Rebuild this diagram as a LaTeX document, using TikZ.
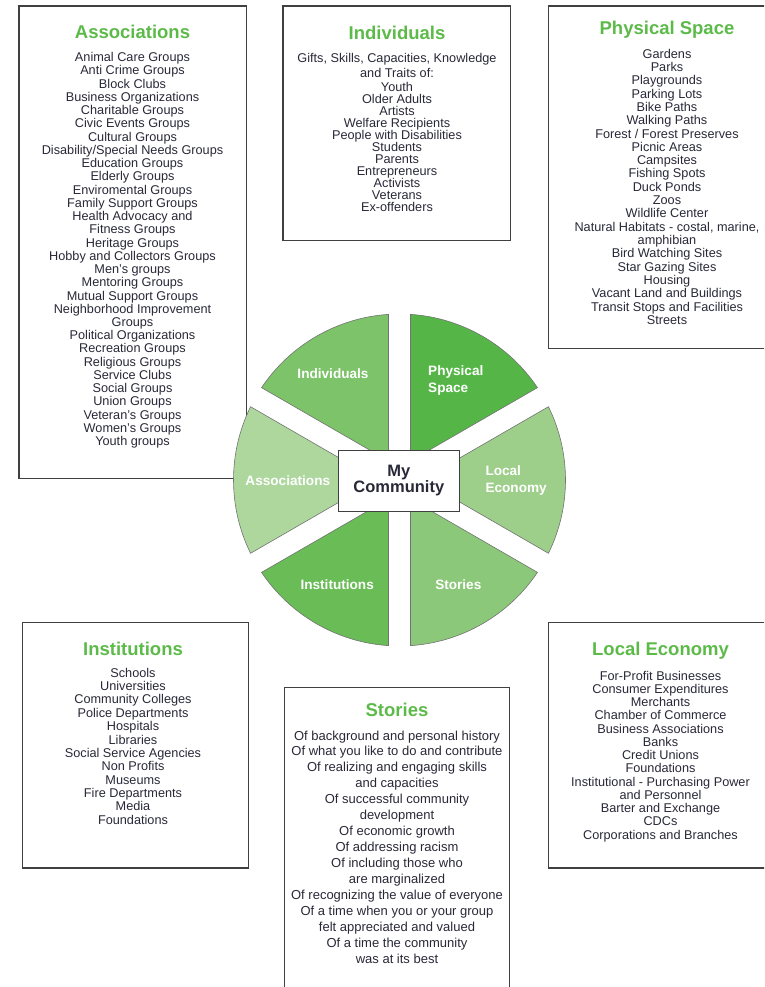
\documentclass[tikz,border=0pt]{standalone}
\usepackage{fontspec}
\setmainfont{Liberation Sans}
\usetikzlibrary{positioning}

\definecolor{titlegreen}{RGB}{92,186,72}
\definecolor{inktext}{RGB}{40,40,56}
\definecolor{boxline}{RGB}{64,64,64}
\definecolor{secind}{RGB}{125,195,106}
\definecolor{secphys}{RGB}{85,182,71}
\definecolor{sececon}{RGB}{158,207,138}
\definecolor{secstor}{RGB}{140,200,121}
\definecolor{secinst}{RGB}{105,188,86}
\definecolor{secassoc}{RGB}{174,215,158}

\tikzset{
  listbox/.style={draw=boxline, line width=1.2pt},
  boxtitle/.style={anchor=base, inner sep=0pt, text=titlegreen,
    font=\bfseries\fontsize{18.5}{20}\selectfont},
  item/.style={anchor=base, inner sep=0pt, text=inktext,
    font=\fontsize{12.7}{13}\selectfont},
  storyitem/.style={item, font=\fontsize{13}{14}\selectfont},
  sector/.style={draw=black!55, line width=0.6pt},
  seclabel/.style={inner sep=0pt, text=white,
    font=\bfseries\fontsize{13.6}{16.5}\selectfont},
  hub/.style={draw=boxline, line width=1pt, fill=white, inner sep=0pt,
    minimum width=121pt, minimum height=61.7pt, align=center, text=inktext,
    font=\bfseries\fontsize{16.5}{16}\selectfont}
}

\begin{document}
\begin{tikzpicture}[x=1pt,y=-1pt]
\useasboundingbox (0,0) rectangle (764,987);
\clip (0,0) rectangle (764,987);

% the six boxes
\draw[listbox] (19,6) rectangle (246.5,478.5);
\draw[listbox] (283,6) rectangle (510.7,240.3);
\draw[listbox] (548.7,6) rectangle (790,348.3);
\draw[listbox] (22.7,622.7) rectangle (248.7,868);
\draw[listbox] (284.7,687.7) rectangle (509.5,1000);
\draw[listbox] (548.7,622.7) rectangle (775,868);

% Associations
\node[boxtitle] (assoctitle) at (132.5,38.3) {Associations};
\foreach \txt [count=\i from 0] in {Animal Care Groups, Anti Crime Groups,
  Block Clubs, Business Organizations, Charitable Groups, Civic Events Groups,
  Cultural Groups, Disability/Special Needs Groups, Education Groups,
  Elderly Groups, Enviromental Groups, Family Support Groups,
  Health Advocacy and, Fitness Groups, Heritage Groups,
  Hobby and Collectors Groups, Men’s groups, Mentoring Groups,
  Mutual Support Groups, Neighborhood Improvement, Groups,
  Political Organizations, Recreation Groups, Religious Groups,
  Service Clubs, Social Groups, Union Groups, Veteran’s Groups,
  Women’s Groups, Youth groups}
  \node[item] (assoc\i) at (132.5,{61.7+13.24*\i}) {\txt};

% Individuals
\node[boxtitle] (indtitle) at (397,39.3) {Individuals};
\node[item] (indhead1) at (397,62.5) {Gifts, Skills, Capacities, Knowledge};
\node[item] (indhead2) at (397,77.5) {and Traits of:};
\foreach \txt [count=\i from 0] in {Youth, Older Adults, Artists,
  Welfare Recipients, People with Disabilities, Students, Parents,
  Entrepreneurs, Activists, Veterans, Ex-offenders}
  \node[item] (ind\i) at (397,{91.5+12*\i}) {\txt};

% Physical Space
\node[boxtitle] (phystitle) at (667,34.3) {Physical Space};
\foreach \txt [count=\i from 0] in {Gardens, Parks, Playgrounds,
  Parking Lots, Bike Paths, Walking Paths, Forest / Forest Preserves,
  Picnic Areas, Campsites, Fishing Spots, Duck Ponds, Zoos,
  Wildlife Center, {Natural Habitats - costal, marine,}, amphibian,
  Bird Watching Sites, Star Gazing Sites, Housing,
  Vacant Land and Buildings, Transit Stops and Facilities, Streets}
  \node[item] (phys\i) at (667,{58.3+13.3*\i}) {\txt};

% Institutions
\node[boxtitle] (insttitle) at (133,655.5) {Institutions};
\foreach \txt [count=\i from 0] in {Schools, Universities,
  Community Colleges, Police Departments, Hospitals, Libraries,
  Social Service Agencies, Non Profits, Museums, Fire Departments,
  Media, Foundations}
  \node[item] (inst\i) at (133,{677.3+13.34*\i}) {\txt};

% Stories
\node[boxtitle] (stortitle) at (397,716.7) {Stories};
\foreach \txt [count=\i from 0] in {Of background and personal history,
  Of what you like to do and contribute, Of realizing and engaging skills,
  and capacities, Of successful community, development,
  Of economic growth, Of addressing racism, Of including those who,
  are marginalized, Of recognizing the value of everyone,
  Of a time when you or your group, felt appreciated and valued,
  Of a time the community, was at its best}
  \node[storyitem] (stor\i) at (397,{740+15.95*\i}) {\txt};

% Local Economy
\node[boxtitle] (econtitle) at (660.5,655) {Local Economy};
\foreach \txt [count=\i from 0] in {For-Profit Businesses,
  Consumer Expenditures, Merchants, Chamber of Commerce,
  Business Associations, Banks, Credit Unions, Foundations,
  Institutional - Purchasing Power, and Personnel, Barter and Exchange,
  CDCs, Corporations and Branches}
  \node[item] (econ\i) at (660.5,{680+13.25*\i}) {\txt};

% the wheel
\begin{scope}[shift={(399.5,480)}, yscale=-1]
\foreach \b/\col in {120/secind, 60/secphys, 0/sececon,
  -60/secstor, -120/secinst, 180/secassoc}
  \filldraw[sector, fill=\col] (\b:22) -- ({\b+30-3.8}:166)
    arc[start angle={\b+30-3.8}, end angle={\b-30+3.8}, radius=166] -- cycle;
\end{scope}

\node[seclabel, anchor=base] (indlabel) at (333,378.7) {Individuals};
\node[seclabel, anchor=north west, align=left] (physlabel) at (428,365.8)
  {Physical\\Space};
\node[seclabel, anchor=north west, align=left] (econlabel) at (485.3,465.8)
  {Local\\Economy};
\node[seclabel, anchor=base] (storlabel) at (458.3,589.3) {Stories};
\node[seclabel, anchor=base] (instlabel) at (337.2,589.3) {Institutions};
\node[seclabel, anchor=base] (assoclabel) at (287.8,485) {Associations};

\node[hub] (hub) at (398.8,481) {My\\Community};
\end{tikzpicture}
\end{document}
